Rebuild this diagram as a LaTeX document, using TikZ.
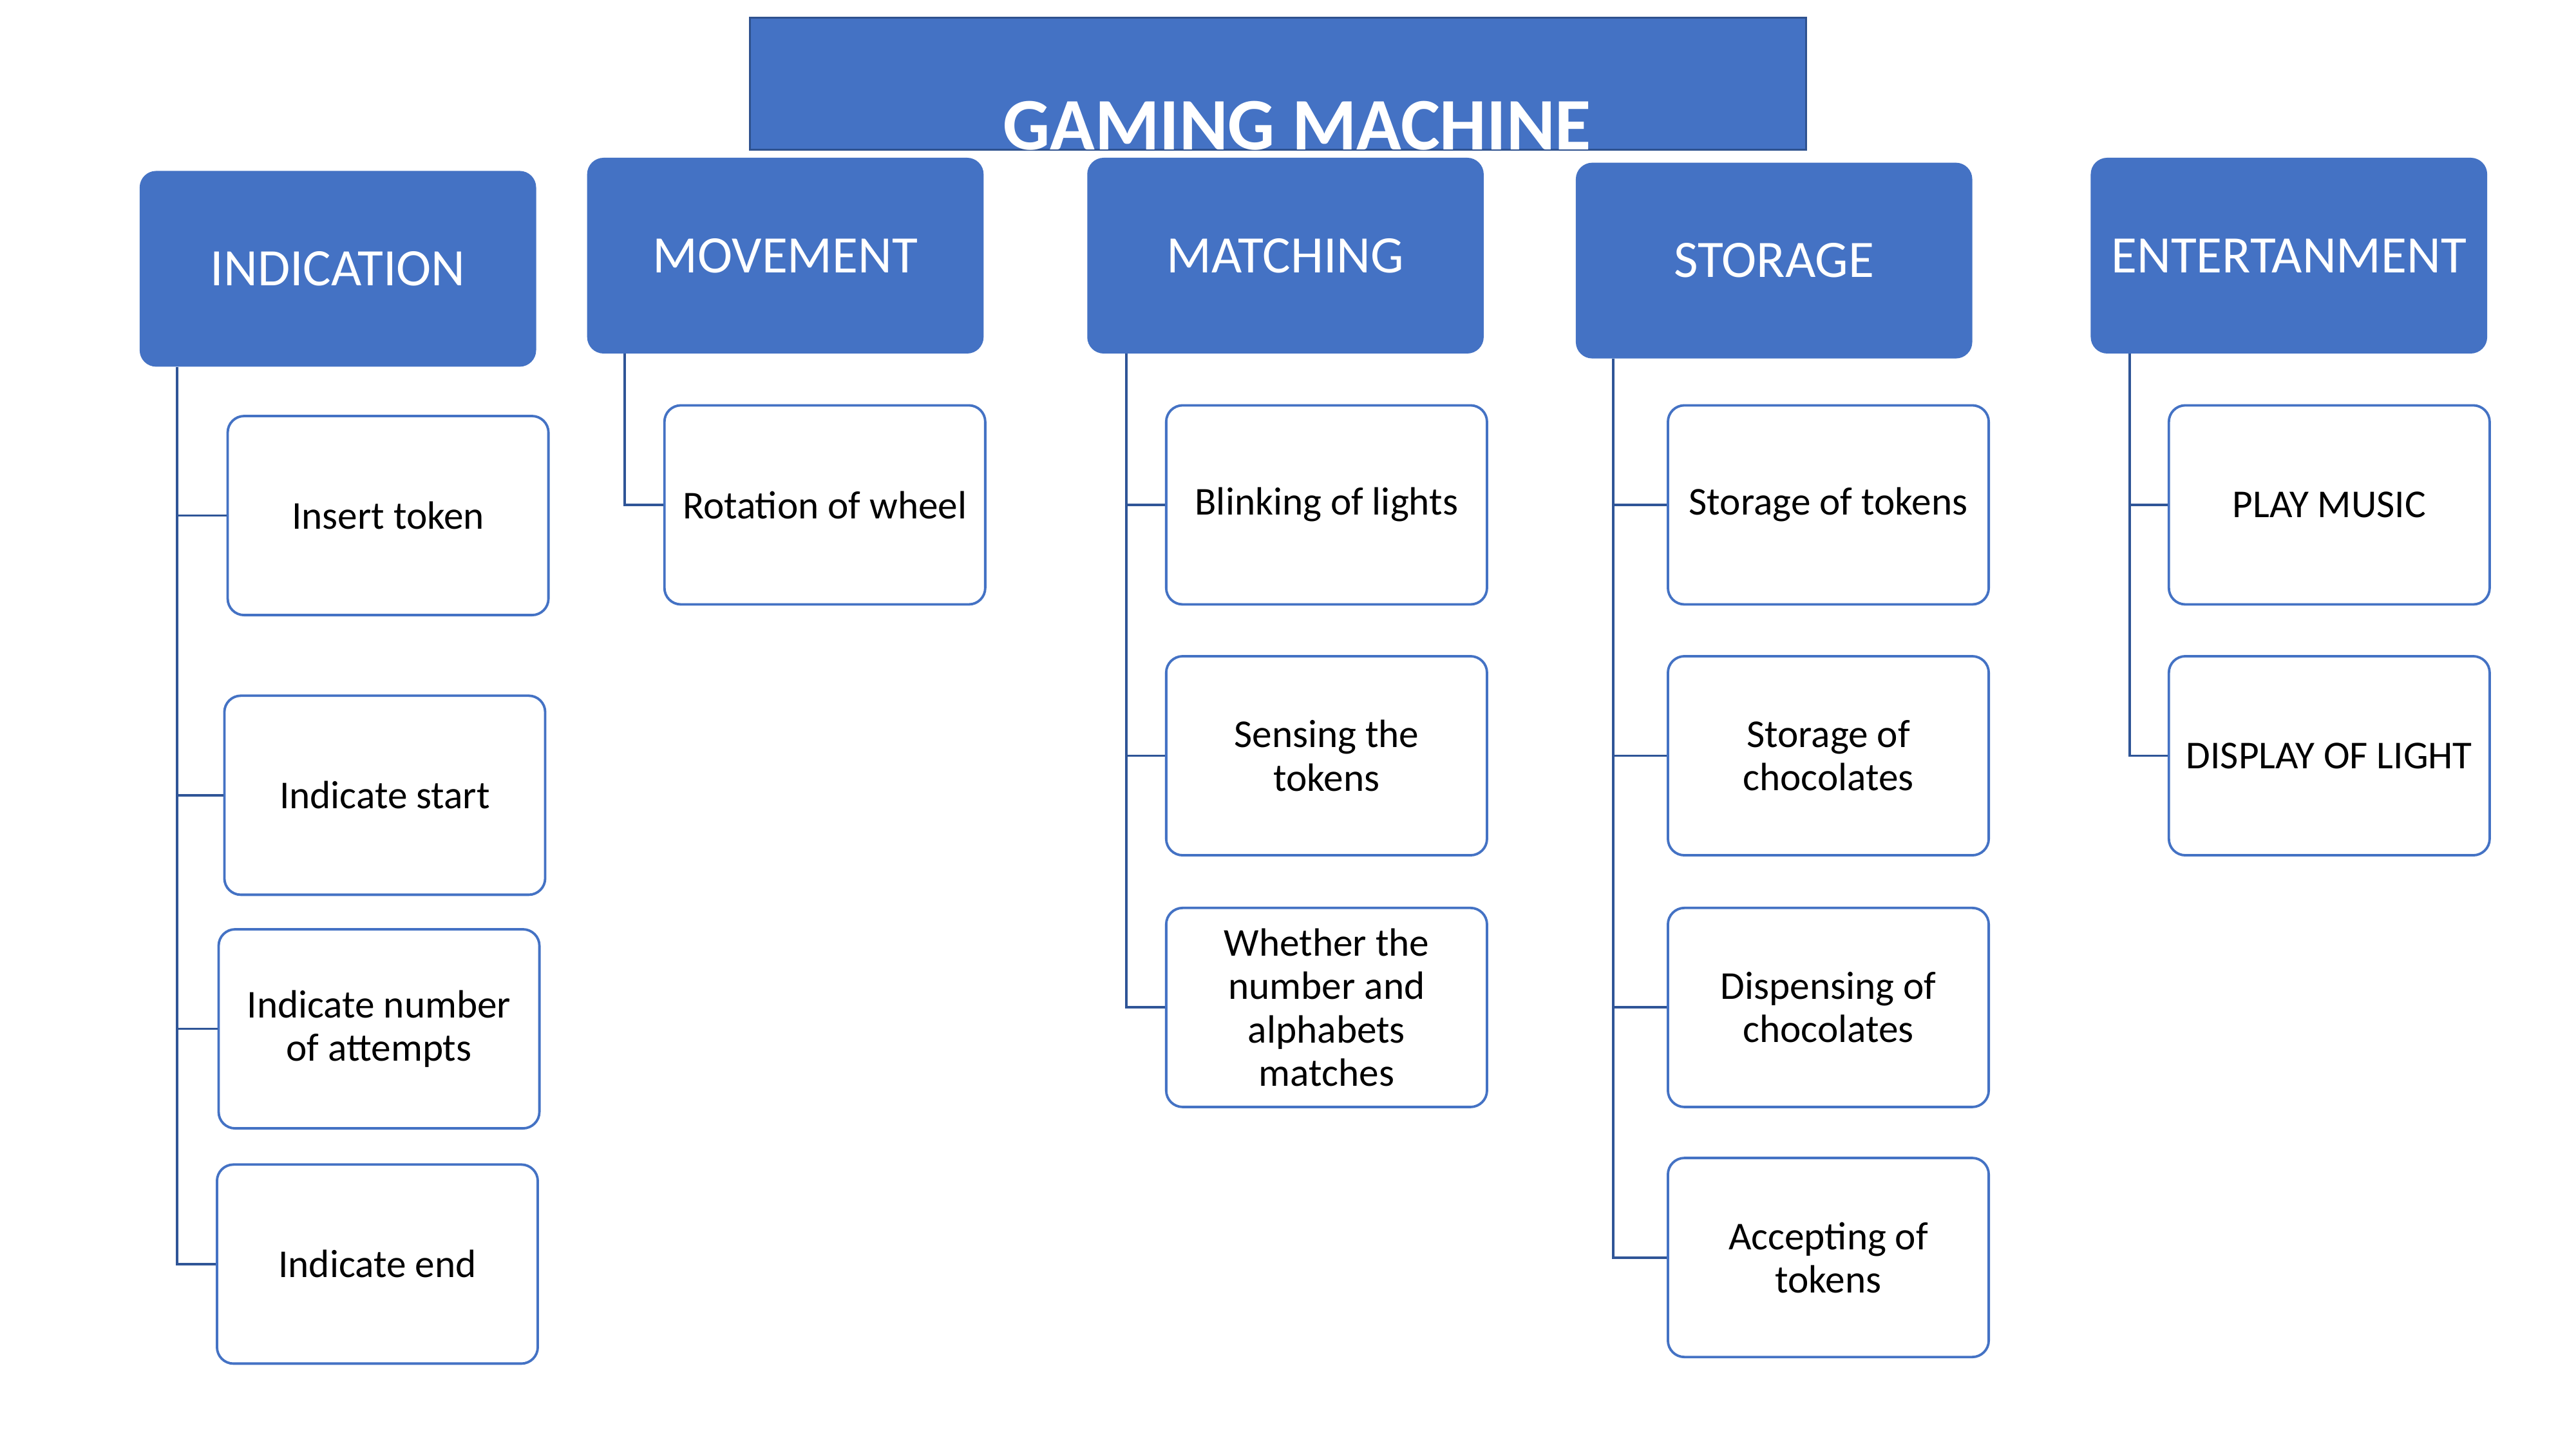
\documentclass[tikz,border=0pt]{standalone}
\usepackage{fontspec}
\setmainfont{Carlito}
\definecolor{hdrblue}{HTML}{4472C4}
\definecolor{connblue}{HTML}{2F5597}
\definecolor{titleedge}{HTML}{2F528F}
\begin{document}
\begin{tikzpicture}[x=1pt,y=-1pt,
  titlebox/.style={draw=titleedge, line width=1.2pt, fill=hdrblue, minimum width=642pt, minimum height=80pt, inner sep=0pt},
  titletxt/.style={text=white, font=\fontsize{45}{54}\selectfont\bfseries, inner sep=0pt, anchor=base},
  hdrbox/.style={fill=hdrblue, rounded corners=10pt, minimum width=241pt, minimum height=119pt, inner sep=0pt, text=white, font=\fontsize{32}{38}\selectfont},
  childbox/.style={draw=hdrblue, line width=1.5pt, fill=white, rounded corners=10pt, minimum width=195pt, minimum height=121pt, inner sep=0pt, align=center, font=\fontsize{24}{26.3}\selectfont},
  conn/.style={draw=connblue, line width=1.5pt}
]
\useasboundingbox (-0.9,-0.9) rectangle (1565,879.9);
\fill[white] (-0.9,-0.9) rectangle (1565,879.9);

% title
\node[titlebox] (title) at (776,50) {};
\node[titletxt] (titletext) at (787.5,90) {GAMING MACHINE};

% headers
\node[hdrbox] (ind) at (204.5,162.5) {INDICATION};
\node[hdrbox] (mov) at (476.5,154.5) {MOVEMENT};
\node[hdrbox] (mat) at (780.5,154.5) {MATCHING};
\node[hdrbox] (sto) at (1077.5,157.5) {STORAGE};
\node[hdrbox] (ent) at (1390.5,154.5) {ENTERTANMENT};

% INDICATION children
\node[childbox] (i1) at (235,312.5) {Insert token};
\node[childbox] (i2) at (233,482.5) {Indicate start};
\node[childbox] (i3) at (229.5,624.5) {Indicate number\\of attempts};
\node[childbox] (i4) at (228.5,767.5) {Indicate end};

% MOVEMENT child
\node[childbox] (m1) at (500.5,306) {Rotation of wheel};

% MATCHING children
\node[childbox] (a1) at (805.5,306) {Blinking of lights};
\node[childbox] (a2) at (805.5,458.5) {Sensing the\\tokens};
\node[childbox] (a3) at (805.5,611.5) {Whether the\\number and\\alphabets\\matches};

% STORAGE children
\node[childbox] (s1) at (1110.5,306) {Storage of tokens};
\node[childbox] (s2) at (1110.5,458.5) {Storage of\\chocolates};
\node[childbox] (s3) at (1110.5,611.5) {Dispensing of\\chocolates};
\node[childbox] (s4) at (1110.5,763.5) {Accepting of\\tokens};

% ENTERTANMENT children
\node[childbox] (e1) at (1415,306) {PLAY MUSIC};
\node[childbox] (e2) at (1415,458.5) {DISPLAY OF LIGHT};

% connectors
\foreach \c in {i1,i2,i3,i4}{\draw[conn] ([xshift=23pt]ind.south west) |- (\c.west);}
\draw[conn] ([xshift=23pt]mov.south west) |- (m1.west);
\foreach \c in {a1,a2,a3}{\draw[conn] ([xshift=24pt]mat.south west) |- (\c.west);}
\foreach \c in {s1,s2,s3,s4}{\draw[conn] ([xshift=23pt]sto.south west) |- (\c.west);}
\foreach \c in {e1,e2}{\draw[conn] ([xshift=24pt]ent.south west) |- (\c.west);}
\end{tikzpicture}
\end{document}
